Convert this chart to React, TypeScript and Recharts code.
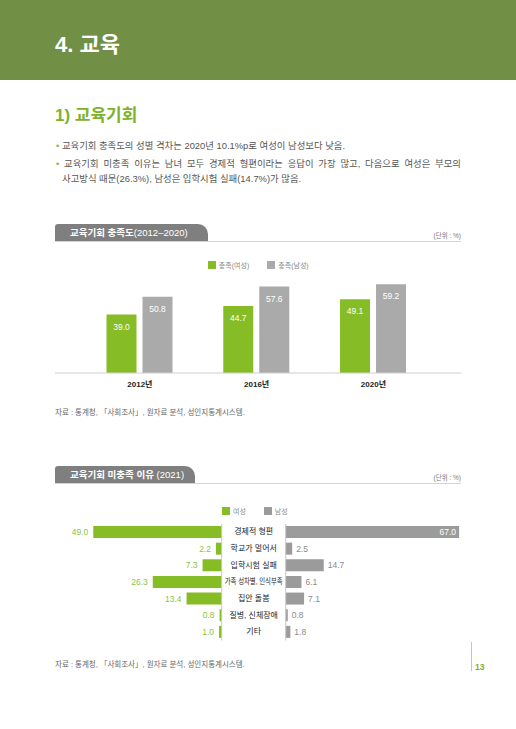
import React from "react";
import { Bar, BarChart, LabelList, Legend, ReferenceLine, XAxis, YAxis } from "recharts";

// 교육기회 충족도 (2012–2020)
const years = ["2012년", "2016년", "2020년"];
const satisfiedFemale = [39.0, 44.7, 49.1];
const satisfiedMale = [50.8, 57.6, 59.2];

// 교육기회 미충족 이유 (2021)
const reasons = [
  "경제적 형편",
  "학교가 멀어서",
  "입학시험 실패",
  "가족 성차별, 인식부족",
  "집안 돌봄",
  "질병, 신체장애",
  "기타",
];
const reasonFemale = [49.0, 2.2, 7.3, 26.3, 13.4, 0.8, 1.0];
const reasonMale = [67.0, 2.5, 14.7, 6.1, 7.1, 0.8, 1.8];

const GREEN = "#86bc25";
const GREEN_TEXT = "#8cc43a";
const GRAY1 = "#aaaaaa";
const GRAY2 = "#9b9b9b";
const FONT = "'Liberation Sans', 'Noto Sans CJK KR', sans-serif";

const satData = years.map((year, i) => ({
  year,
  female: satisfiedFemale[i],
  male: satisfiedMale[i],
}));

const reasonData = reasons.map((reason, i) => ({
  reason,
  female: reasonFemale[i],
  male: reasonMale[i],
}));

function SwatchLegend({ items, padTop, shift = 0 }: { items: { label: string; color: string }[]; padTop: number; shift?: number }) {
  return (
    <div
      style={{
        height: 24,
        boxSizing: "border-box",
        paddingTop: padTop,
        display: "flex",
        justifyContent: "center",
        gap: 18,
        marginLeft: shift,
      }}
    >
      {items.map((it) => (
        <div key={it.label} style={{ display: "flex", alignItems: "center", height: 8, fontSize: 7, color: "#8a8a8a" }}>
          <span style={{ display: "inline-block", width: 8, height: 8, background: it.color, marginRight: 3 }} />
          {it.label}
        </div>
      ))}
    </div>
  );
}

function ChartTab({ top, width, bold, rest }: { top: number; width: number; bold: string; rest: string }) {
  return (
    <>
      <div
        style={{
          position: "absolute",
          left: 55,
          top,
          width,
          height: 18,
          background: "#7f7f7f",
          borderRadius: "3px 10px 0 0",
          color: "#fff",
          fontSize: 9.5,
          lineHeight: "18px",
          boxSizing: "border-box",
          paddingLeft: 15,
          whiteSpace: "nowrap",
        }}
      >
        <b>{bold}</b>
        {rest}
      </div>
      <div style={{ position: "absolute", left: 55, top: top + 17, width: 406, height: 1, background: "#d4d4d4" }} />
      <div style={{ position: "absolute", left: 400, width: 61, top: top + 6, fontSize: 6.5, color: "#777", textAlign: "right" }}>
        (단위 : %)
      </div>
    </>
  );
}

// centre of the label column between the two halves (chart coordinates)
const MID_X = 198.7;

function ReasonLabel(props: any) {
  const label = String(props.value);
  const long = label.length > 9;
  return (
    <text
      x={MID_X}
      y={Number(props.y) + Number(props.height) / 2}
      textAnchor="middle"
      dominantBaseline="central"
      fontSize={8}
      fill="#222"
      {...(long ? { textLength: 58, lengthAdjust: "spacingAndGlyphs" } : {})}
    >
      {label}
    </text>
  );
}

function FemaleLabel(props: any) {
  const x = Number(props.x);
  const w = Number(props.width);
  const left = Math.min(x, x + w);
  return (
    <text x={left - 5} y={Number(props.y) + Number(props.height) / 2} textAnchor="end" dominantBaseline="central" fontSize={8.5} fill={GREEN_TEXT}>
      {Number(props.value).toFixed(1)}
    </text>
  );
}

function MaleLabel(props: any) {
  const x = Number(props.x);
  const w = Number(props.width);
  const right = Math.max(x, x + w);
  const v = Number(props.value);
  const inside = v > 60;
  return (
    <text
      x={inside ? right - 3 : right + 4}
      y={Number(props.y) + Number(props.height) / 2}
      textAnchor={inside ? "end" : "start"}
      dominantBaseline="central"
      fontSize={8.5}
      fill={inside ? "#fff" : "#8a8a8a"}
    >
      {v.toFixed(1)}
    </text>
  );
}

const sourceText = "자료 : 통계청, 「사회조사」, 원자료 분석, 성인지통계시스템.";

export default function App() {
  return (
    <div
      style={{
        position: "absolute",
        left: 0,
        top: 0,
        width: 516,
        height: 729,
        background: "#fff",
        overflow: "hidden",
        fontFamily: FONT,
      }}
    >
      {/* header */}
      <div style={{ position: "absolute", left: 0, top: 0, width: 516, height: 80, background: "#718f45" }} />
      <div style={{ position: "absolute", left: 55, top: 32, fontSize: 22, lineHeight: "25px", fontWeight: 700, color: "#fff" }}>
        4. 교육
      </div>
      <div style={{ position: "absolute", left: 55, top: 105, fontSize: 17, lineHeight: "22px", fontWeight: 700, color: "#7cb32a" }}>
        1) 교육기회
      </div>

      {/* bullets */}
      <div style={{ position: "absolute", left: 56, top: 138, width: 405, fontSize: 9.4, lineHeight: "15.5px", color: "#555" }}>
        <div>
          <span style={{ color: GREEN }}>• </span>교육기회 충족도의 성별 격차는 2020년 10.1%p로 여성이 남성보다 낮음.
        </div>
        <div style={{ marginTop: 2, textAlign: "justify", textAlignLast: "justify" }}>
          <span style={{ color: GREEN }}>• </span>교육기회 미충족 이유는 남녀 모두 경제적 형편이라는 응답이 가장 많고, 다음으로 여성은 부모의
        </div>
        <div style={{ paddingLeft: 6 }}>사고방식 때문(26.3%), 남성은 입학시험 실패(14.7%)가 많음.</div>
      </div>

      {/* chart 1 */}
      <ChartTab top={224} width={153} bold="교육기회 충족도" rest="(2012–2020)" />
      <div style={{ position: "absolute", left: 55, top: 250 }}>
        <BarChart width={406.5} height={146} data={satData} margin={{ top: 0, right: 0, bottom: 0, left: 0 }} barSize={30} barGap={6}>
          <Legend
            verticalAlign="top"
            content={() => (
              <SwatchLegend
                padTop={11}
                items={[
                  { label: "충족(여성)", color: GREEN },
                  { label: "충족(남성)", color: GRAY1 },
                ]}
              />
            )}
          />
          <XAxis
            dataKey="year"
            interval={0}
            height={23}
            axisLine={{ stroke: "#cfcfcf" }}
            tickLine={false}
            padding={{ left: 26.5, right: 29.7 }}
            tick={{ fontSize: 8, fill: "#222", fontWeight: 600 }}
          />
          <YAxis hide domain={[0, 66]} />
          <Bar dataKey="female" fill={GREEN} isAnimationActive={false}>
            <LabelList dataKey="female" position="insideTop" offset={9} fill="#fff" fontSize={8.5} formatter={(v: any) => Number(v).toFixed(1)} />
          </Bar>
          <Bar dataKey="male" fill={GRAY1} isAnimationActive={false}>
            <LabelList dataKey="male" position="insideTop" offset={9} fill="#fff" fontSize={8.5} formatter={(v: any) => Number(v).toFixed(1)} />
          </Bar>
        </BarChart>
      </div>
      <div style={{ position: "absolute", left: 55, top: 406, fontSize: 7.5, color: "#666", whiteSpace: "nowrap" }}>{sourceText}</div>

      {/* chart 2 */}
      <ChartTab top={466} width={140} bold="교육기회 미충족 이유" rest=" (2021)" />
      <div style={{ position: "absolute", left: 55, top: 500 }}>
        <BarChart
          layout="vertical"
          width={406.7}
          height={140.5}
          data={reasonData}
          margin={{ top: 0, right: 0, bottom: 0, left: 0 }}
          barSize={12}
          barGap={-12}
        >
          <Legend
            verticalAlign="top"
            content={() => (
              <SwatchLegend
                padTop={7}
                shift={-7}
                items={[
                  { label: "여성", color: GREEN },
                  { label: "남성", color: GRAY2 },
                ]}
              />
            )}
          />
          <XAxis xAxisId="f" type="number" domain={[0, 63.6]} reversed hide padding={{ left: 0, right: 240 }} />
          <XAxis xAxisId="m" type="number" domain={[0, 68]} hide padding={{ left: 230.7, right: 0 }} />
          <YAxis type="category" dataKey="reason" hide />
          <ReferenceLine xAxisId="f" x={0} stroke="#c8c8c8" />
          <ReferenceLine xAxisId="m" x={0} stroke="#c8c8c8" />
          <Bar xAxisId="f" dataKey="female" fill={GREEN} isAnimationActive={false}>
            <LabelList dataKey="female" content={FemaleLabel} />
            <LabelList dataKey="reason" content={ReasonLabel} />
          </Bar>
          <Bar xAxisId="m" dataKey="male" fill={GRAY2} isAnimationActive={false}>
            <LabelList dataKey="male" content={MaleLabel} />
          </Bar>
        </BarChart>
      </div>
      <div style={{ position: "absolute", left: 55, top: 658, fontSize: 7.5, color: "#666", whiteSpace: "nowrap" }}>{sourceText}</div>

      {/* page number */}
      <div style={{ position: "absolute", left: 471, top: 642, width: 1, height: 29, background: "#b9d77f" }} />
      <div style={{ position: "absolute", left: 475, top: 662, fontSize: 8.5, fontWeight: 700, color: "#7cb32a" }}>13</div>
    </div>
  );
}
